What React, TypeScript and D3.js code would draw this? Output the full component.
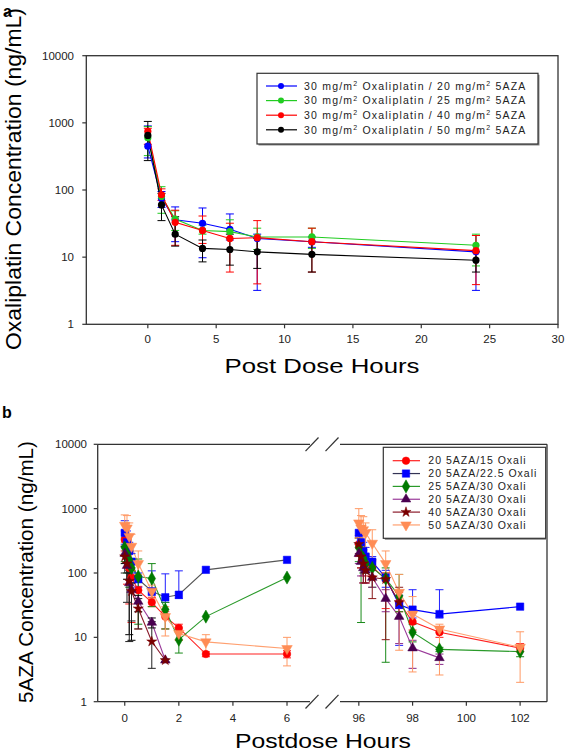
import React from 'react';
import * as d3 from 'd3';

const FONT = '"Liberation Sans", Arial, Helvetica, sans-serif';

// ---------- Panel a data ----------
const aTimes = [0, 1, 2, 4, 6, 8, 12, 24];
const aOxaliDose = 30;
const aAzaDoses = [20, 25, 40, 50];
const aColors = ['#0000ff', '#22cc22', '#ff0000', '#000000'];

const aBlue = [450, 75, 36, 32, 26, 19, 17, 12];
const aBlueHi = [900, 95, 56, 54, 44, 22, 20, 21];
const aBlueLo = [300, 55, 17, 9.8, 18, 3.2, 14, 3.2];

const aGreen = [600, 80, 37, 25, 24, 20, 20, 15];
const aGreenHi = [880, 112, 49, 30, 36, 27, 27, 22];
const aGreenLo = [325, 45, 25, 22, 19, 13, 13.5, 7.4];

const aRed = [750, 85, 33, 25, 19, 19.5, 17, 12.5];
const aRedHi = [830, 104, 50, 41, 32, 35, 27, 21];
const aRedLo = [480, 70, 15, 16, 6, 4, 6, 3.9];

const aBlack = [650, 60, 22, 13.5, 13, 12, 11, 9];
const aBlackHi = [1050, 89, 40, 18, 22, 19, 17, 12];
const aBlackLo = [274, 35, 14.6, 8.5, 7.6, 6.8, 6, 6];

const aXTicks = [0, 5, 10, 15, 20, 25, 30];
const yTicks = [1, 10, 100, 1000, 10000];

// ---------- Panel b data ----------
const bTimesEarly = [0, 0.083, 0.167, 0.25, 0.5, 1, 1.5, 2, 3, 6];
const bTimesLate = [96, 96.083, 96.167, 96.25, 96.5, 97, 97.5, 98, 99, 102];
const bXTicksEarly = [0, 2, 4, 6];
const bXTicksLate = [96, 98, 100, 102];
const bLabels = [
  '20 5AZA/15 Oxali',
  '20 5AZA/22.5 Oxali',
  '25 5AZA/30 Oxali',
  '20 5AZA/30 Oxali',
  '40 5AZA/30 Oxali',
  '50 5AZA/30 Oxali',
];

const redEarly = [330, 220, 120, 85, 54, 35, 21, 14, 5.5, 5.5];
const redEarlyHi = [450, 300, 160, 110, 62, 42, 25, 16, 6, 6.2];
const redEarlyLo = [220, 67, 33, 17, 13.5, 30, 13.5, 9, 5, 4.8];
const redLate = [280, 200, 160, 140, 125, 80, 35, 17.5, 12, 6.8];
const redLateHi = [380, 280, 220, 190, 160, 100, 50, 25, 14, 8];
const redLateLo = [180, 120, 90, 70, 90, 28, 25, 13, 10, 6];

const blueEarly = [420, 300, 220, 150, 80, 52, 42, 46, 112, 160];
const blueEarlyHi = [650, 450, 300, 200, 100, 108, 97, 108, null, null];
const blueEarlyLo = [280, 180, 150, 100, 60, 45, 35, 40, null, null];
const blueLate = [420, 300, 220, 180, 150, 85, 32, 27, 23, 30];
const blueLateHi = [650, 450, 300, 250, 180, 110, 45, 55, 55, null];
const blueLateLo = [280, 200, 150, 120, 120, 60, 7.5, 20, 20, null];

const greenEarly = [250, 200, 160, 120, 88, 82, 27, 9.2, 21, 85];
const greenEarlyHi = [350, 280, 220, 160, 165, 140, 35, 12, null, null];
const greenEarlyLo = [150, 100, 60, 90, 16, 30, 13.5, 5.7, null, null];
const greenLate = [250, 190, 170, 140, 120, 82, 44, 12, 6.5, 6];
const greenLateHi = [350, 260, 230, 190, 160, 120, 95, 16, 7, 7];
const greenLateLo = [150, 17, 100, 100, 60, 4.1, 25, 8.5, 6, 5];

const purpleEarly = [200, 130, 70, 55, 36, 17, 4.4, null, null, null];
const purpleEarlyHi = [260, 180, 100, 70, 45, 20, 4.6, null, null, null];
const purpleEarlyLo = [140, 80, 11, 9, 25, 14, 4.2, null, null, null];
const purpleLate = [200, 150, 120, 110, 85, 40, 21, 6.8, 4.8, null];
const purpleLateHi = [280, 200, 160, 140, 110, 55, 28, 9, 5.5, null];
const purpleLateLo = [140, 90, 70, 70, 60, 25, 8, 3.3, 3.8, null];

const maroonEarly = [180, 140, 75, 52, 28, 8.6, 4.4, null, null, null];
const maroonEarlyHi = [260, 200, 110, 70, 40, 17.5, null, null, null, null];
const maroonEarlyLo = [100, 35, 8.6, 18, 13.5, 3.3, null, null, null, null];
const maroonLate = [280, 180, 140, 110, 85, 80, 35, null, null, null];
const maroonLateHi = [350, 250, 200, 150, 110, 100, 60, null, null, null];
const maroonLateLo = [200, 120, 70, 70, 40, 9.2, 20, null, null, null];

const orangeEarly = [550, 500, 370, 260, 140, 52, 21, 11.5, 8.5, 6.7];
const orangeEarlyHi = [800, 780, 600, 400, 220, 65, 30, 14, 11, 10];
const orangeEarlyLo = [300, 250, 200, 150, 95, 40, 10.5, 9, 6, 3.6];
const orangeLate = [600, 500, 470, 420, 290, 140, 50, 23, 13.5, 7];
const orangeLateHi = [1000, 780, 750, 600, 470, 220, 95, 43, 16, 12.2];
const orangeLateLo = [350, 300, 250, 200, 150, 100, 6.3, 2.9, 2.6, 2];

type BSeries = {
  label: string;
  shape: string;
  line: string;
  lineEarly: string;
  fill: string;
  err: string;
  errEarly: string;
  early: (number | null)[];
  earlyHi: (number | null)[];
  earlyLo: (number | null)[];
  late: (number | null)[];
  lateHi: (number | null)[];
  lateLo: (number | null)[];
};

const bSeries: BSeries[] = [
  { label: bLabels[0], shape: 'circle', line: '#ff2020', lineEarly: '#ff2020', fill: '#ff0000', err: '#ff2020', errEarly: '#ff2020', early: redEarly, earlyHi: redEarlyHi, earlyLo: redEarlyLo, late: redLate, lateHi: redLateHi, lateLo: redLateLo },
  { label: bLabels[1], shape: 'square', line: '#0000ff', lineEarly: '#555555', fill: '#0000ff', err: '#2020ff', errEarly: '#2020ff', early: blueEarly, earlyHi: blueEarlyHi, earlyLo: blueEarlyLo, late: blueLate, lateHi: blueLateHi, lateLo: blueLateLo },
  { label: bLabels[2], shape: 'diamond', line: '#2a9a2a', lineEarly: '#2a9a2a', fill: '#007a00', err: '#1a8a1a', errEarly: '#1a8a1a', early: greenEarly, earlyHi: greenEarlyHi, earlyLo: greenEarlyLo, late: greenLate, lateHi: greenLateHi, lateLo: greenLateLo },
  { label: bLabels[3], shape: 'triangle', line: '#9a3a9a', lineEarly: '#9a3a9a', fill: '#4a0050', err: '#8a2a8a', errEarly: '#000000', early: purpleEarly, earlyHi: purpleEarlyHi, earlyLo: purpleEarlyLo, late: purpleLate, lateHi: purpleLateHi, lateLo: purpleLateLo },
  { label: bLabels[4], shape: 'star', line: '#8b1a2a', lineEarly: '#8b1a2a', fill: '#7a0000', err: '#8b1a1a', errEarly: '#222222', early: maroonEarly, earlyHi: maroonEarlyHi, earlyLo: maroonEarlyLo, late: maroonLate, lateHi: maroonLateHi, lateLo: maroonLateLo },
  { label: bLabels[5], shape: 'triangleDown', line: '#ffa070', lineEarly: '#ffa070', fill: '#ff8c55', err: '#ff9a66', errEarly: '#ff9a66', early: orangeEarly, earlyHi: orangeEarlyHi, earlyLo: orangeEarlyLo, late: orangeLate, lateHi: orangeLateHi, lateLo: orangeLateLo },
];

// ---------- Layout ----------
const A = { left: 86.3, right: 558, top: 55.7, bottom: 324.3 };
const B = { left: 97.7, right: 547, top: 444.3, bottom: 701.7, breakL: 310, breakR: 340 };
const AXIS = '#333333';

function symbolPath(shape: string, size: number) {
  const map: Record<string, d3.SymbolType> = {
    circle: d3.symbolCircle,
    square: d3.symbolSquare,
    diamond: d3.symbolDiamond,
    triangle: d3.symbolTriangle,
    triangleDown: d3.symbolTriangle,
    star: d3.symbolStar,
  };
  return d3.symbol().type(map[shape]).size(size)() as string;
}
const shapeSize: Record<string, number> = { circle: 45, square: 55, diamond: 50, triangle: 40, triangleDown: 48, star: 32 };

function Marker({ x, y, shape, fill }: { x: number; y: number; shape: string; fill: string }) {
  const rot = shape === 'triangleDown' ? ' rotate(180)' : '';
  return <path d={symbolPath(shape, shapeSize[shape])} transform={`translate(${x},${y})${rot}`} fill={fill} stroke={fill} strokeWidth={0.5} />;
}

function ErrBar({ x, yHi, yLo, color, cap = 4 }: { x: number; yHi: number | null; yLo: number | null; color: string; cap?: number }) {
  const els: React.ReactNode[] = [];
  if (yHi != null && yLo != null) els.push(<line key="v" x1={x} x2={x} y1={yHi} y2={yLo} stroke={color} strokeWidth={1} />);
  if (yHi != null) els.push(<line key="h" x1={x - cap} x2={x + cap} y1={yHi} y2={yHi} stroke={color} strokeWidth={1} />);
  if (yLo != null) els.push(<line key="l" x1={x - cap} x2={x + cap} y1={yLo} y2={yLo} stroke={color} strokeWidth={1} />);
  return <g>{els}</g>;
}

function PanelA() {
  const x = d3.scaleLinear().domain([-4.5, 30]).range([A.left, A.right]);
  const y = d3.scaleLog().domain([1, 10000]).range([A.bottom, A.top]);
  const series = [
    { v: aBlue, hi: aBlueHi, lo: aBlueLo },
    { v: aGreen, hi: aGreenHi, lo: aGreenLo },
    { v: aRed, hi: aRedHi, lo: aRedLo },
    { v: aBlack, hi: aBlackHi, lo: aBlackLo },
  ];
  const line = d3.line<number>().x((_, i) => x(aTimes[i])).y((d) => y(d));
  const legX = 257, legY = 73.3, legW = 281, legH = 70.7;
  return (
    <g>
      <text x={3} y={17} fontFamily={FONT} fontWeight="bold" fontSize={16}>a</text>
      <rect x={A.left} y={A.top} width={A.right - A.left} height={A.bottom - A.top} fill="none" stroke={AXIS} strokeWidth={1.3} />
      {yTicks.map((t) => (
        <g key={t}>
          <line x1={A.left - 4} x2={A.left} y1={y(t)} y2={y(t)} stroke={AXIS} strokeWidth={1.2} />
          <text x={74} y={y(t)} dy="0.35em" textAnchor="end" fontFamily={FONT} fontSize={11.5} fill="#222">{t}</text>
        </g>
      ))}
      {aXTicks.map((t) => (
        <g key={t}>
          <line x1={x(t)} x2={x(t)} y1={A.bottom} y2={A.bottom + 4} stroke={AXIS} strokeWidth={1.2} />
          <text x={x(t)} y={339} dy="0.35em" textAnchor="middle" fontFamily={FONT} fontSize={11.5} fill="#222">{t}</text>
        </g>
      ))}
      <text transform={`translate(21,${179}) rotate(-90)`} textAnchor="middle" fontFamily={FONT} fontSize={22} textLength={342} lengthAdjust="spacingAndGlyphs">Oxaliplatin Concentration (ng/mL)</text>
      <text x={322} y={373} textAnchor="middle" fontFamily={FONT} fontSize={21} textLength={195} lengthAdjust="spacingAndGlyphs">Post Dose Hours</text>
      {series.map((s, si) => (
        <g key={'e' + si}>
          {s.v.map((_, i) => (
            <ErrBar key={i} x={x(aTimes[i])} yHi={y(s.hi[i])} yLo={y(s.lo[i])} color={aColors[si]} />
          ))}
        </g>
      ))}
      {series.map((s, si) => (
        <path key={'l' + si} d={line(s.v) as string} fill="none" stroke={aColors[si]} strokeWidth={1.1} />
      ))}
      {series.map((s, si) => (
        <g key={'m' + si}>
          {s.v.map((v, i) => (
            <circle key={i} cx={x(aTimes[i])} cy={y(v)} r={3.6} fill={aColors[si]} />
          ))}
        </g>
      ))}
      <rect x={legX + 1.5} y={legY + 1.5} width={legW} height={legH} fill="#888" />
      <rect x={legX} y={legY} width={legW} height={legH} fill="#fff" stroke="#333" strokeWidth={1.2} />
      {aAzaDoses.map((d, i) => {
        const ry = 86 + i * 14.6;
        return (
          <g key={d}>
            <line x1={266} x2={297} y1={ry} y2={ry} stroke={aColors[i]} strokeWidth={1.2} />
            <circle cx={281} cy={ry} r={3} fill={aColors[i]} />
            <text x={304} y={ry} dy="0.36em" fontFamily={FONT} fontSize={10.5} letterSpacing={1.2} fill="#222">
              {`${aOxaliDose} mg/m`}
              <tspan dy={-3.5} fontSize={7}>2</tspan>
              <tspan dy={3.5}>{` Oxaliplatin / ${d} mg/m`}</tspan>
              <tspan dy={-3.5} fontSize={7}>2</tspan>
              <tspan dy={3.5}>{' 5AZA'}</tspan>
            </text>
          </g>
        );
      })}
    </g>
  );
}

function PanelB() {
  const xE = d3.scaleLinear().domain([-1, 6.85]).range([B.left, B.breakL]);
  const xL = d3.scaleLinear().domain([95.3, 103]).range([B.breakR, B.right]);
  const y = d3.scaleLog().domain([1, 10000]).range([B.bottom, B.top]);
  const mkLine = (xs: d3.ScaleLinear<number, number>, times: number[]) =>
    d3
      .line<number | null>()
      .defined((d) => d != null)
      .x((_, i) => xs(times[i]))
      .y((d) => y(d as number));
  const lineE = mkLine(xE, bTimesEarly);
  const lineL = mkLine(xL, bTimesLate);
  const slash = (cx: number, cy: number) => `M${cx - 6.5},${cy + 6.8}L${cx + 6.5},${cy - 6.8}`;
  const legX = 383.3, legY = 447.3, legW = 162.4, legH = 91;
  return (
    <g>
      <text x={2} y={418} fontFamily={FONT} fontWeight="bold" fontSize={16}>b</text>
      <line x1={B.left} x2={B.left} y1={B.top} y2={B.bottom} stroke={AXIS} strokeWidth={1.3} />
      <line x1={B.right} x2={B.right} y1={B.top} y2={B.bottom} stroke={AXIS} strokeWidth={1.3} />
      <line x1={B.left} x2={B.breakL} y1={B.top} y2={B.top} stroke={AXIS} strokeWidth={1.3} />
      <line x1={B.breakR} x2={B.right} y1={B.top} y2={B.top} stroke={AXIS} strokeWidth={1.3} />
      <line x1={B.left} x2={B.breakL} y1={B.bottom} y2={B.bottom} stroke={AXIS} strokeWidth={1.3} />
      <line x1={B.breakR} x2={B.right} y1={B.bottom} y2={B.bottom} stroke={AXIS} strokeWidth={1.3} />
      {[B.top, B.bottom].map((yy) => (
        <g key={yy}>
          <path d={slash(312, yy)} stroke={AXIS} strokeWidth={1.2} fill="none" />
          <path d={slash(332, yy)} stroke={AXIS} strokeWidth={1.2} fill="none" />
        </g>
      ))}
      {yTicks.map((t) => (
        <g key={t}>
          <line x1={B.left - 4} x2={B.left} y1={y(t)} y2={y(t)} stroke={AXIS} strokeWidth={1.2} />
          <text x={87} y={y(t)} dy="0.35em" textAnchor="end" fontFamily={FONT} fontSize={11.5} fill="#222">{t}</text>
        </g>
      ))}
      {bXTicksEarly.map((t) => (
        <g key={'e' + t}>
          <line x1={xE(t)} x2={xE(t)} y1={B.bottom} y2={B.bottom + 4} stroke={AXIS} strokeWidth={1.2} />
          <text x={xE(t)} y={718} dy="0.35em" textAnchor="middle" fontFamily={FONT} fontSize={11.5} fill="#222">{t}</text>
        </g>
      ))}
      {bXTicksLate.map((t) => (
        <g key={'l' + t}>
          <line x1={xL(t)} x2={xL(t)} y1={B.bottom} y2={B.bottom + 4} stroke={AXIS} strokeWidth={1.2} />
          <text x={xL(t)} y={718} dy="0.35em" textAnchor="middle" fontFamily={FONT} fontSize={11.5} fill="#222">{t}</text>
        </g>
      ))}
      <text transform={`translate(33,${572}) rotate(-90)`} textAnchor="middle" fontFamily={FONT} fontSize={20} textLength={262} lengthAdjust="spacingAndGlyphs">5AZA Concentration (ng/mL)</text>
      <text x={323} y={748} textAnchor="middle" fontFamily={FONT} fontSize={21} textLength={176} lengthAdjust="spacingAndGlyphs">Postdose Hours</text>
      {bSeries.map((s, si) => (
        <g key={'ln' + si}>
          <path d={lineE(s.early) as string} fill="none" stroke={s.lineEarly} strokeWidth={1.1} />
          <path d={lineL(s.late) as string} fill="none" stroke={s.line} strokeWidth={1.1} />
        </g>
      ))}
      {bSeries.map((s, si) => (
        <g key={'er' + si}>
          {s.early.map((v, i) =>
            v == null ? null : (
              <ErrBar key={'e' + i} x={xE(bTimesEarly[i])} yHi={s.earlyHi[i] == null ? null : y(s.earlyHi[i] as number)} yLo={s.earlyLo[i] == null ? null : y(s.earlyLo[i] as number)} color={s.errEarly} />
            )
          )}
          {s.late.map((v, i) =>
            v == null ? null : (
              <ErrBar key={'l' + i} x={xL(bTimesLate[i])} yHi={s.lateHi[i] == null ? null : y(s.lateHi[i] as number)} yLo={s.lateLo[i] == null ? null : y(s.lateLo[i] as number)} color={s.err} />
            )
          )}
        </g>
      ))}
      {bSeries.map((s, si) => (
        <g key={'mk' + si}>
          {s.early.map((v, i) => (v == null ? null : <Marker key={'e' + i} x={xE(bTimesEarly[i])} y={y(v)} shape={s.shape} fill={s.fill} />))}
          {s.late.map((v, i) => (v == null ? null : <Marker key={'l' + i} x={xL(bTimesLate[i])} y={y(v)} shape={s.shape} fill={s.fill} />))}
        </g>
      ))}
      <rect x={legX + 1.5} y={legY + 1.5} width={legW} height={legH} fill="#888" />
      <rect x={legX} y={legY} width={legW} height={legH} fill="#fff" stroke="#333" strokeWidth={1.2} />
      {bSeries.map((s, i) => {
        const ry = 460.7 + i * 12.85;
        return (
          <g key={'lg' + i}>
            <line x1={392.7} x2={420} y1={ry} y2={ry} stroke={i === 1 ? '#333355' : s.line} strokeWidth={1.2} />
            <Marker x={406} y={ry} shape={s.shape} fill={s.fill} />
            <text x={428.3} y={ry} dy="0.36em" fontFamily={FONT} fontSize={10.5} letterSpacing={1.0} fill="#222">{s.label}</text>
          </g>
        );
      })}
    </g>
  );
}

export default function App() {
  return (
    <svg width={567} height={752} viewBox="0 0 567 752" style={{ position: 'absolute', left: 0, top: 0, background: '#fff' }}>
      <rect x={0} y={0} width={567} height={752} fill="#fff" />
      <PanelA />
      <PanelB />
    </svg>
  );
}
